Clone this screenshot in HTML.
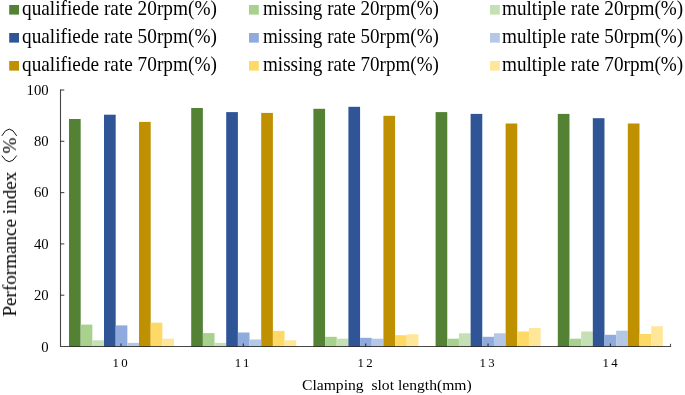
<!DOCTYPE html>
<html><head><meta charset="utf-8"><title>chart</title>
<style>
html,body{margin:0;padding:0;background:#fff;}
div{will-change:transform;}
body{width:685px;height:395px;position:relative;overflow:hidden;font-family:"Liberation Serif",serif;color:#000;}
svg{position:absolute;left:0;top:0;}
.lg{position:absolute;font-size:19.3px;line-height:22px;white-space:pre;transform-origin:0 17.5px;transform:scaleY(1.05);}
.yt{position:absolute;left:0;width:48.6px;text-align:right;font-size:14.7px;line-height:18px;}
.xt{position:absolute;top:353.7px;width:60px;text-align:center;font-size:12.8px;line-height:18px;letter-spacing:2.35px;text-indent:2.35px;}
.xtitle{position:absolute;left:302px;top:375.7px;font-size:15.63px;line-height:18px;white-space:pre;}
.ytitle{position:absolute;left:0;top:0;font-size:19.1px;line-height:22px;white-space:pre;transform-origin:0 0;transform:translate(-1px,316.5px) rotate(-90deg);}
.ytitle .p1{margin-left:18.3px;}
.ytitle .p2{margin-left:1px;}
</style></head><body>
<svg width="685" height="395" viewBox="0 0 685 395">
<rect x="69.00" y="119.00" width="11.67" height="227.50" fill="#548235"/>
<rect x="80.67" y="324.60" width="11.67" height="21.90" fill="#A9D18E"/>
<rect x="92.34" y="340.30" width="11.67" height="6.20" fill="#C5E0B4"/>
<rect x="104.01" y="114.70" width="11.67" height="231.80" fill="#2F5597"/>
<rect x="115.68" y="325.40" width="11.67" height="21.10" fill="#8FAADC"/>
<rect x="127.35" y="342.90" width="11.67" height="3.60" fill="#B4C7E7"/>
<rect x="139.02" y="121.90" width="11.67" height="224.60" fill="#BF9000"/>
<rect x="150.69" y="322.70" width="11.67" height="23.80" fill="#FFD966"/>
<rect x="162.36" y="338.70" width="11.67" height="7.80" fill="#FFE699"/>
<rect x="191.20" y="108.00" width="11.67" height="238.50" fill="#548235"/>
<rect x="202.87" y="333.10" width="11.67" height="13.40" fill="#A9D18E"/>
<rect x="214.54" y="342.90" width="11.67" height="3.60" fill="#C5E0B4"/>
<rect x="226.21" y="112.10" width="11.67" height="234.40" fill="#2F5597"/>
<rect x="237.88" y="332.50" width="11.67" height="14.00" fill="#8FAADC"/>
<rect x="249.55" y="339.50" width="11.67" height="7.00" fill="#B4C7E7"/>
<rect x="261.22" y="112.90" width="11.67" height="233.60" fill="#BF9000"/>
<rect x="272.89" y="330.90" width="11.67" height="15.60" fill="#FFD966"/>
<rect x="284.56" y="340.30" width="11.67" height="6.20" fill="#FFE699"/>
<rect x="313.40" y="108.80" width="11.67" height="237.70" fill="#548235"/>
<rect x="325.07" y="336.80" width="11.67" height="9.70" fill="#A9D18E"/>
<rect x="336.74" y="338.70" width="11.67" height="7.80" fill="#C5E0B4"/>
<rect x="348.41" y="106.80" width="11.67" height="239.70" fill="#2F5597"/>
<rect x="360.08" y="337.80" width="11.67" height="8.70" fill="#8FAADC"/>
<rect x="371.75" y="338.70" width="11.67" height="7.80" fill="#B4C7E7"/>
<rect x="383.42" y="115.80" width="11.67" height="230.70" fill="#BF9000"/>
<rect x="395.09" y="335.20" width="11.67" height="11.30" fill="#FFD966"/>
<rect x="406.76" y="334.20" width="11.67" height="12.30" fill="#FFE699"/>
<rect x="435.60" y="112.10" width="11.67" height="234.40" fill="#548235"/>
<rect x="447.27" y="338.70" width="11.67" height="7.80" fill="#A9D18E"/>
<rect x="458.94" y="333.30" width="11.67" height="13.20" fill="#C5E0B4"/>
<rect x="470.61" y="113.90" width="11.67" height="232.60" fill="#2F5597"/>
<rect x="482.28" y="336.80" width="11.67" height="9.70" fill="#8FAADC"/>
<rect x="493.95" y="333.30" width="11.67" height="13.20" fill="#B4C7E7"/>
<rect x="505.62" y="123.50" width="11.67" height="223.00" fill="#BF9000"/>
<rect x="517.29" y="331.50" width="11.67" height="15.00" fill="#FFD966"/>
<rect x="528.96" y="328.00" width="11.67" height="18.50" fill="#FFE699"/>
<rect x="557.80" y="113.90" width="11.67" height="232.60" fill="#548235"/>
<rect x="569.47" y="338.70" width="11.67" height="7.80" fill="#A9D18E"/>
<rect x="581.14" y="331.50" width="11.67" height="15.00" fill="#C5E0B4"/>
<rect x="592.81" y="118.20" width="11.67" height="228.30" fill="#2F5597"/>
<rect x="604.48" y="334.80" width="11.67" height="11.70" fill="#8FAADC"/>
<rect x="616.15" y="330.70" width="11.67" height="15.80" fill="#B4C7E7"/>
<rect x="627.82" y="123.50" width="11.67" height="223.00" fill="#BF9000"/>
<rect x="639.49" y="334.00" width="11.67" height="12.50" fill="#FFD966"/>
<rect x="651.16" y="326.20" width="11.67" height="20.30" fill="#FFE699"/>
<path d="M60.5 89.4 V346.45 H671.1" fill="none" stroke="#000" stroke-opacity="0.72" stroke-width="1.1"/>
<path d="M60.5 295.20 H64.3" stroke="#000" stroke-opacity="0.72" stroke-width="1.1" fill="none"/>
<path d="M60.5 243.90 H64.3" stroke="#000" stroke-opacity="0.72" stroke-width="1.1" fill="none"/>
<path d="M60.5 192.60 H64.3" stroke="#000" stroke-opacity="0.72" stroke-width="1.1" fill="none"/>
<path d="M60.5 141.30 H64.3" stroke="#000" stroke-opacity="0.72" stroke-width="1.1" fill="none"/>
<path d="M60.5 90.00 H64.3" stroke="#000" stroke-opacity="0.72" stroke-width="1.1" fill="none"/>
<path d="M121.00 345.9 V343.6" stroke="#000" stroke-opacity="0.72" stroke-width="1.1" fill="none"/>
<path d="M243.35 345.9 V343.6" stroke="#000" stroke-opacity="0.72" stroke-width="1.1" fill="none"/>
<path d="M365.70 345.9 V343.6" stroke="#000" stroke-opacity="0.72" stroke-width="1.1" fill="none"/>
<path d="M488.05 345.9 V343.6" stroke="#000" stroke-opacity="0.72" stroke-width="1.1" fill="none"/>
<path d="M610.40 345.9 V343.6" stroke="#000" stroke-opacity="0.72" stroke-width="1.1" fill="none"/>
<path d="M670.5 345.9 V343.8" stroke="#000" stroke-opacity="0.72" stroke-width="1.1" fill="none"/>
<path d="M1.8 155.6 Q9.25 167.8 16.7 155.6" fill="none" stroke="#111" stroke-width="1"/>
<path d="M1.8 135.9 Q9.25 122.3 16.7 135.9" fill="none" stroke="#111" stroke-width="1"/>
<rect x="9.2" y="5.0" width="9.8" height="9.6" fill="#548235"/>
<rect x="249.0" y="5.0" width="9.8" height="9.6" fill="#A9D18E"/>
<rect x="490.0" y="5.0" width="9.8" height="9.6" fill="#C5E0B4"/>
<rect x="9.2" y="33.0" width="9.8" height="9.6" fill="#2F5597"/>
<rect x="249.0" y="33.0" width="9.8" height="9.6" fill="#8FAADC"/>
<rect x="490.0" y="33.0" width="9.8" height="9.6" fill="#B4C7E7"/>
<rect x="9.2" y="61.0" width="9.8" height="9.6" fill="#BF9000"/>
<rect x="249.0" y="61.0" width="9.8" height="9.6" fill="#FFD966"/>
<rect x="490.0" y="61.0" width="9.8" height="9.6" fill="#FFE699"/>
</svg>
<div class="lg" style="left:21.8px;top:-2.1px;font-size:19.3px">qualifiede rate 20rpm(%)</div>
<div class="lg" style="left:262.5px;top:-2.1px;font-size:19.08px">missing rate 20rpm(%)</div>
<div class="lg" style="left:502.4px;top:-2.1px;font-size:19.2px">multiple rate 20rpm(%)</div>
<div class="lg" style="left:21.8px;top:25.9px;font-size:19.3px">qualifiede rate 50rpm(%)</div>
<div class="lg" style="left:262.5px;top:25.9px;font-size:19.08px">missing rate 50rpm(%)</div>
<div class="lg" style="left:502.4px;top:25.9px;font-size:19.2px">multiple rate 50rpm(%)</div>
<div class="lg" style="left:21.8px;top:53.9px;font-size:19.3px">qualifiede rate 70rpm(%)</div>
<div class="lg" style="left:262.5px;top:53.9px;font-size:19.08px">missing rate 70rpm(%)</div>
<div class="lg" style="left:502.4px;top:53.9px;font-size:19.2px">multiple rate 70rpm(%)</div>
<div class="yt" style="top:337.8px">0</div>
<div class="yt" style="top:286.3px">20</div>
<div class="yt" style="top:234.9px">40</div>
<div class="yt" style="top:183.4px">60</div>
<div class="yt" style="top:131.9px">80</div>
<div class="yt" style="top:80.5px">100</div>
<div class="xt" style="left:90.1px">10</div>
<div class="xt" style="left:212.4px">11</div>
<div class="xt" style="left:334.8px">12</div>
<div class="xt" style="left:457.1px">13</div>
<div class="xt" style="left:579.5px">14</div>
<div class="xtitle">Clamping  slot length(mm)</div>
<div class="ytitle">Performance index<span class="p1">%</span></div>
</body></html>
